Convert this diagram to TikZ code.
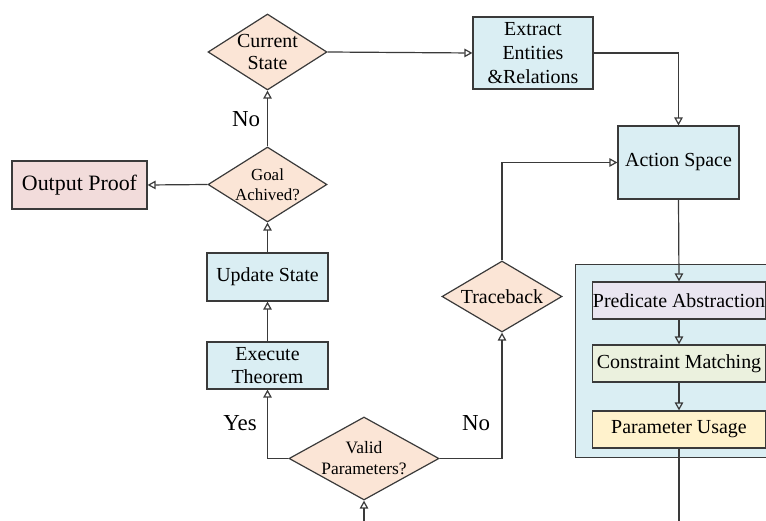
\documentclass[tikz,border=0pt]{standalone}
\usepackage{fontspec}
\setmainfont{Liberation Serif}
\usetikzlibrary{arrows.meta,shapes.geometric}
\definecolor{peach}{HTML}{FBE5D6}
\definecolor{lblue}{HTML}{DAEEF3}
\definecolor{pinkb}{HTML}{F2DCDB}
\definecolor{lav}{HTML}{E9E5F0}
\definecolor{lgreen}{HTML}{EBF1DE}
\definecolor{lyellow}{HTML}{FFF2CC}
\definecolor{edgec}{HTML}{3A3A3A}
\tikzset{
 box/.style={draw=edgec, line width=1.2bp, inner sep=0pt, align=center, font=\fontsize{20}{24}\selectfont},
 dia/.style={diamond, draw=edgec, fill=peach, line width=1.2bp, inner sep=0pt},
 dtext/.style={align=center, inner sep=0pt},
 conn/.style={draw=edgec, line width=1.2bp, -{Triangle[open,length=8bp,width=8.5bp]}},
 plain/.style={draw=edgec, line width=1.2bp},
 lab/.style={font=\fontsize{23}{27}\selectfont, inner sep=0pt}
}
\begin{document}
\begin{tikzpicture}[x=1bp,y=-1bp]
\useasboundingbox (0,0) rectangle (766,521);
% panel
\node[box, fill=lblue, minimum width=215bp, minimum height=193bp, anchor=north west] (panel) at (575,264) {};
% nodes
\node[dia, minimum width=119bp, minimum height=76bp] (cs) at (267.5,52) {};
\node[dtext, font=\fontsize{20}{23}\selectfont] at (cs) {Current\\State};
\node[box, fill=lblue, minimum width=120bp, minimum height=72bp] (ex) at (533,53) {Extract\\Entities\\\&Relations};
\node[box, fill=lblue, minimum width=121bp, minimum height=73bp] (as) at (678.5,162.5) {Action Space};
\node[dia, minimum width=119bp, minimum height=75bp] (goal) at (267.5,184.5) {};
\node[dtext, font=\fontsize{17}{20}\selectfont] at (goal) {Goal\\Achived?};
\node[box, fill=pinkb, minimum width=135bp, minimum height=48bp, font=\fontsize{22}{26}\selectfont] (op) at (79.5,185) {Output Proof};
\node[box, fill=lblue, minimum width=121bp, minimum height=48bp] (us) at (267.5,277) {Update State};
\node[box, fill=lblue, minimum width=121bp, minimum height=47bp, font=\fontsize{20}{23}\selectfont] (et) at (267.5,365.5) {Execute\\Theorem};
\node[dia, minimum width=150bp, minimum height=83bp] (vp) at (364,458.5) {};
\node[dtext, font=\fontsize{17.5}{21}\selectfont] at (vp) {Valid\\Parameters?};
\node[dia, minimum width=120bp, minimum height=71bp] (tb) at (502,296.5) {};
\node[dtext, font=\fontsize{20}{24}\selectfont] at (tb) {Traceback};
\node[box, fill=lav, minimum width=173bp, minimum height=37bp] (pa) at (679,300.5) {Predicate Abstraction};
\node[box, fill=lgreen, minimum width=173bp, minimum height=37bp] (cm) at (679,363.5) {Constraint Matching};
\node[box, fill=lyellow, minimum width=173bp, minimum height=37bp] (pu) at (679,429.5) {Parameter Usage};
% free ends
\coordinate (bot1) at (364,521);
\coordinate (bot2) at (679,521);
% labels
\node[lab] (no1) at (246,119) {No};
\node[lab] (no2) at (476,423) {No};
\node[lab] (yes) at (240,423) {Yes};
% connectors
\draw[conn] (goal.north) -- (cs.south);
\draw[conn] (cs.east) -- (ex.west);
\draw[conn] (ex.east) -| (as.north);
\draw[conn] (as.south) -- (pa.north);
\draw[conn] (pa.south) -- (cm.north);
\draw[conn] (cm.south) -- (pu.north);
\draw[plain] (pu.south) -- (bot2);
\draw[conn] (bot1) -- (vp.south);
\draw[conn] (vp.west) -| (et.south);
\draw[conn] (et.north) -- (us.south);
\draw[conn] (us.north) -- (goal.south);
\draw[conn] (goal.west) -- (op.east);
\draw[conn] (vp.east) -| (tb.south);
\draw[conn] (tb.north) |- (as.west);
\end{tikzpicture}
\end{document}
